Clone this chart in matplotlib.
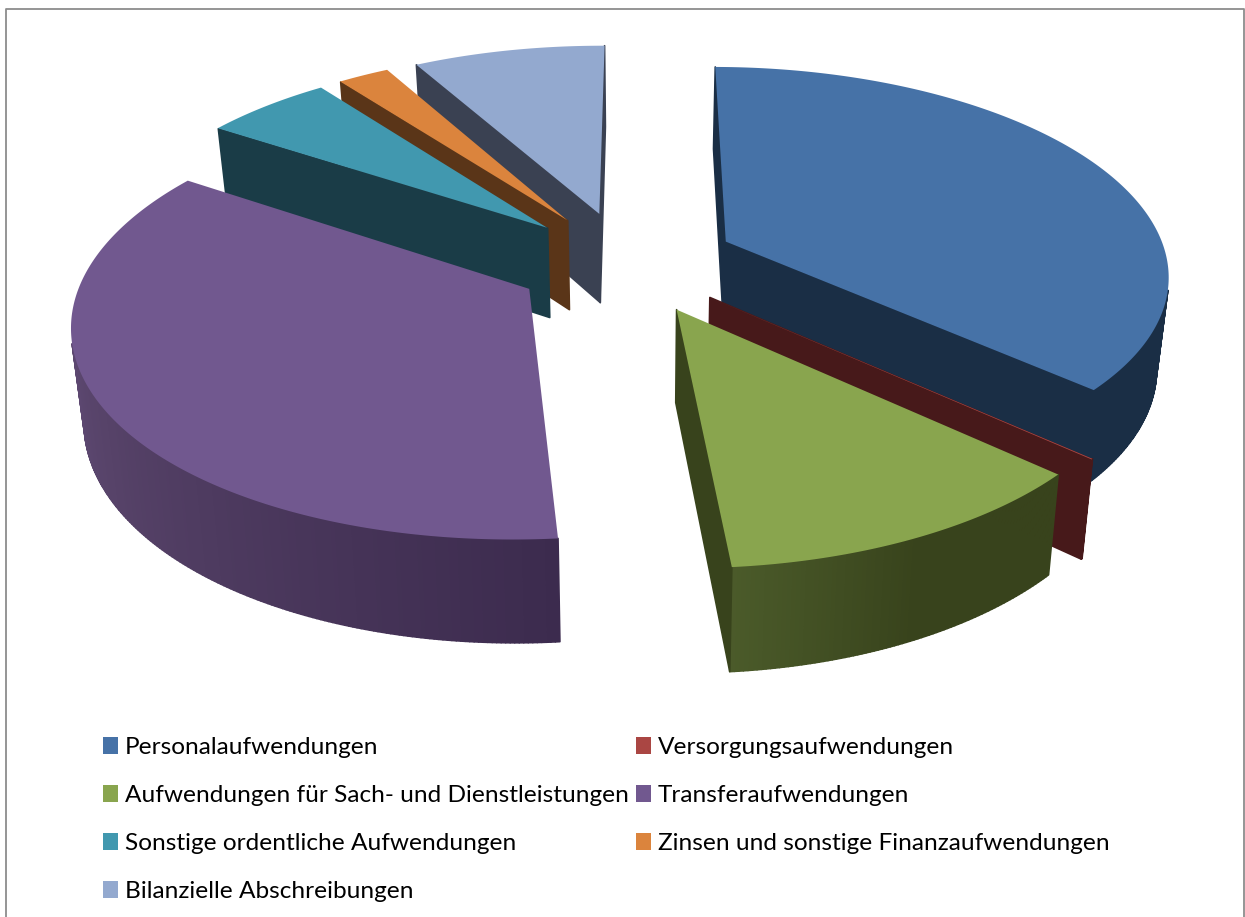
import matplotlib

matplotlib.use("Agg")
import matplotlib.pyplot as plt  # type: ignore
import numpy as np
from matplotlib.collections import PolyCollection
from matplotlib.colors import to_rgb
from matplotlib.patches import Polygon, Rectangle

labels = [
    "Personalaufwendungen",
    "Versorgungsaufwendungen",
    "Aufwendungen für Sach- und Dienstleistungen",
    "Transferaufwendungen",
    "Sonstige ordentliche Aufwendungen",
    "Zinsen und sonstige Finanzaufwendungen",
    "Bilanzielle Abschreibungen",
]
# share of the total in percent
values = [36.64, 0.05, 11.85, 35.6, 5.45, 2.2, 8.2]

top_colors = ["#4672A7", "#AA4643", "#89A54E", "#71588F", "#4198AF", "#DB843D", "#93A9CF"]
face_colors = ["#1A2E45", "#47191A", "#38431C", "#3C2B4E", "#1A3C47", "#5A3518", "#3A4152"]
# wall colours along each slice, in clockwise order
wall_colors = [
    ["#1A2E45"],
    ["#47191A"],
    ["#38431C", "#38431C", "#4B5B2A"],
    ["#3C2B4E", "#574369", "#6A5485"],
    ["#1A3C47"],
    ["#5A3518"],
    ["#3A4152"],
]

START_ANGLE = 0.3
EXPLODE = 0.25

# projection of the tilted pie, in pixels of the 1245x917 picture
CX, CY = 626.0, 262.0
RX, RY = 442.4, 205.6
PERSPECTIVE = 0.1455


def project(px: np.ndarray, py: np.ndarray) -> np.ndarray:
    scale = 1 / (1 - PERSPECTIVE * py)
    return np.column_stack([CX + RX * px * scale, CY + RY * py * scale])


def lower(points: np.ndarray) -> np.ndarray:
    # bottom of the pie from its top surface
    x = 640 + 0.977 * (points[:, 0] - 640)
    y = 1.045 * points[:, 1] + 79
    return np.column_stack([x, y])


def signed_area(quad: np.ndarray) -> float:
    x, y = quad[:, 0], quad[:, 1]
    return float(np.sum(x * np.roll(y, -1) - np.roll(x, -1) * y))


def slice_outline(a0: float, a1: float) -> np.ndarray:
    # apex first, then the rim clockwise, angles measured from the top
    mid = np.radians((a0 + a1) / 2)
    ox, oy = EXPLODE * np.sin(mid), -EXPLODE * np.cos(mid)
    theta = np.radians(np.linspace(a0, a1, max(int((a1 - a0) * 2), 2) + 1))
    px = np.concatenate([[ox], ox + np.sin(theta)])
    py = np.concatenate([[oy], oy - np.cos(theta)])
    return project(px, py)


def wall_color(stops: list[str], t: float) -> tuple:
    rgb = np.array([to_rgb(c) for c in stops])
    pos = np.linspace(0, 1, len(stops)) if len(stops) > 1 else np.array([0.0])
    return tuple(np.interp(t, pos, rgb[:, i]) for i in range(3))


def draw_slice(ax, outline: np.ndarray, idx: int, zorder: int) -> None:
    bottom = lower(outline)
    n = len(outline)
    quads, colors = [], []
    for i in range(n):
        j = (i + 1) % n
        quad = np.array([outline[i], outline[j], bottom[j], bottom[i]])
        if signed_area(quad) >= 0:
            continue
        quads.append(quad)
        if i == 0 or j == 0:
            colors.append(face_colors[idx])
        else:
            colors.append(wall_color(wall_colors[idx], (i - 1) / max(n - 2, 1)))
    ax.add_collection(
        PolyCollection(quads, facecolors=colors, edgecolors=colors, linewidths=1.2, zorder=zorder)
    )
    ax.add_patch(Polygon(outline, closed=True, fc=top_colors[idx], ec="none", zorder=zorder + 1))


def main() -> None:
    fig = plt.figure(figsize=(12.45, 9.17), dpi=100)
    ax = fig.add_axes([0, 0, 1, 1])
    ax.set_xlim(0, 1245)
    ax.set_ylim(917, 0)
    ax.axis("off")

    # chart frame, no bottom edge visible
    ax.plot([6, 6, 1244, 1244], [917, 9, 9, 917], color="#8C8C8C", lw=1.3, zorder=1)

    degrees = np.array(values) / np.sum(values) * 360
    edges = START_ANGLE + np.concatenate([[0], np.cumsum(degrees)])
    outlines = [slice_outline(edges[i], edges[i + 1]) for i in range(len(values))]

    # back to front
    order = sorted(range(len(values)), key=lambda i: outlines[i][0, 1])
    for z, idx in enumerate(order):
        draw_slice(ax, outlines[idx], idx, 10 + 2 * z)

    # legend in two columns
    for i, label in enumerate(labels):
        x = 103 if i % 2 == 0 else 636
        y = 745 + 48 * (i // 2)
        ax.add_patch(Rectangle((x, y - 8), 15, 17, fc=top_colors[i], ec="none", zorder=50))
        ax.text(x + 22, y + 2, label, fontsize=17.6, family="Lato", color="black", va="center", ha="left", zorder=50)

    fig.savefig("out.png", dpi=100)


if __name__ == "__main__":
    main()
